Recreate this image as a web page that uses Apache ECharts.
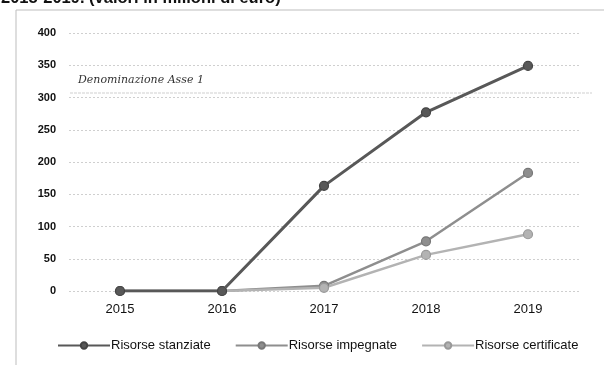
<!DOCTYPE html>
<html>
<head>
<meta charset="utf-8">
<script src="https://cdn.jsdelivr.net/npm/echarts@6/dist/echarts.min.js"></script>
<style>
  html, body { margin: 0; padding: 0; background: #fff; }
  #chart { width: 604px; height: 365px; }
</style>
</head>
<body>
<div id="chart"></div>
<script>
// Anni e risorse (milioni di euro)
const anni = ['2015', '2016', '2017', '2018', '2019'];
const risorseStanziate = [0, 0, 163, 277, 349];
const risorseImpegnate = [0, 0, 8, 77, 183];
const risorseCertificate = [0, 0, 5, 56, 88];
const yTicks = [0, 50, 100, 150, 200, 250, 300, 350, 400];

const FONT = '"Liberation Sans", Arial, sans-serif';

function serie(nome, dati, colore, bordo, spessore) {
  return {
    name: nome,
    type: 'line',
    data: dati,
    symbol: 'circle',
    symbolSize: 9,
    lineStyle: { color: colore, width: spessore },
    itemStyle: { color: colore, borderColor: bordo, borderWidth: 1.2 },
    emphasis: { disabled: true },
    z: 3
  };
}

const chart = echarts.init(document.getElementById('chart'), null, { renderer: 'canvas' });
chart.setOption({
  animation: false,
  backgroundColor: '#ffffff',
  textStyle: { fontFamily: FONT },
  graphic: [
    { type: 'text', left: 1, top: -10, style: { text: '2015-2019. (valori in milioni di euro)', font: 'bold 16.5px ' + FONT, fill: '#111' } },
    { type: 'line', shape: { x1: 16, y1: 10, x2: 604, y2: 10 }, style: { stroke: '#bdbdbd', lineWidth: 1 } },
    { type: 'line', shape: { x1: 16, y1: 10, x2: 16, y2: 365 }, style: { stroke: '#bdbdbd', lineWidth: 1 } },
    { type: 'line', shape: { x1: 70, y1: 93, x2: 592, y2: 93 }, style: { stroke: '#e0e0e0', lineWidth: 1.5, lineDash: [3, 1] } },
    { type: 'text', left: 78, top: 75, style: { text: 'Denominazione Asse 1', font: 'italic 11px "DejaVu Serif", serif', fill: '#333' } }
  ],
  grid: { left: 69, right: 25, top: 33, bottom: 74 },
  legend: {
    bottom: 8,
    left: 52,
    itemWidth: 52,
    itemHeight: 8,
    itemGap: 24,
    textStyle: { fontFamily: FONT, fontSize: 13, color: '#111', padding: [0, 0, 0, -4] },
    data: ['Risorse stanziate', 'Risorse impegnate', 'Risorse certificate']
  },
  xAxis: {
    type: 'category',
    data: anni,
    boundaryGap: true,
    axisLine: { show: false },
    axisTick: { show: false },
    axisLabel: { fontFamily: FONT, fontSize: 13, color: '#111', margin: 12 }
  },
  yAxis: {
    type: 'value',
    min: yTicks[0],
    max: yTicks[yTicks.length - 1],
    interval: 50,
    axisLine: { show: false },
    axisTick: { show: false },
    axisLabel: { fontFamily: FONT, fontSize: 11, fontWeight: 'bold', color: '#111', margin: 13 },
    splitLine: { lineStyle: { color: '#cfcfcf', type: [2, 2], width: 1 } }
  },
  series: [
    serie('Risorse impegnate', risorseImpegnate, '#8e8e8e', '#777', 2.5),
    serie('Risorse certificate', risorseCertificate, '#b3b3b3', '#999', 2.5),
    serie('Risorse stanziate', risorseStanziate, '#585858', '#444', 3)
  ]
});
</script>
</body>
</html>
